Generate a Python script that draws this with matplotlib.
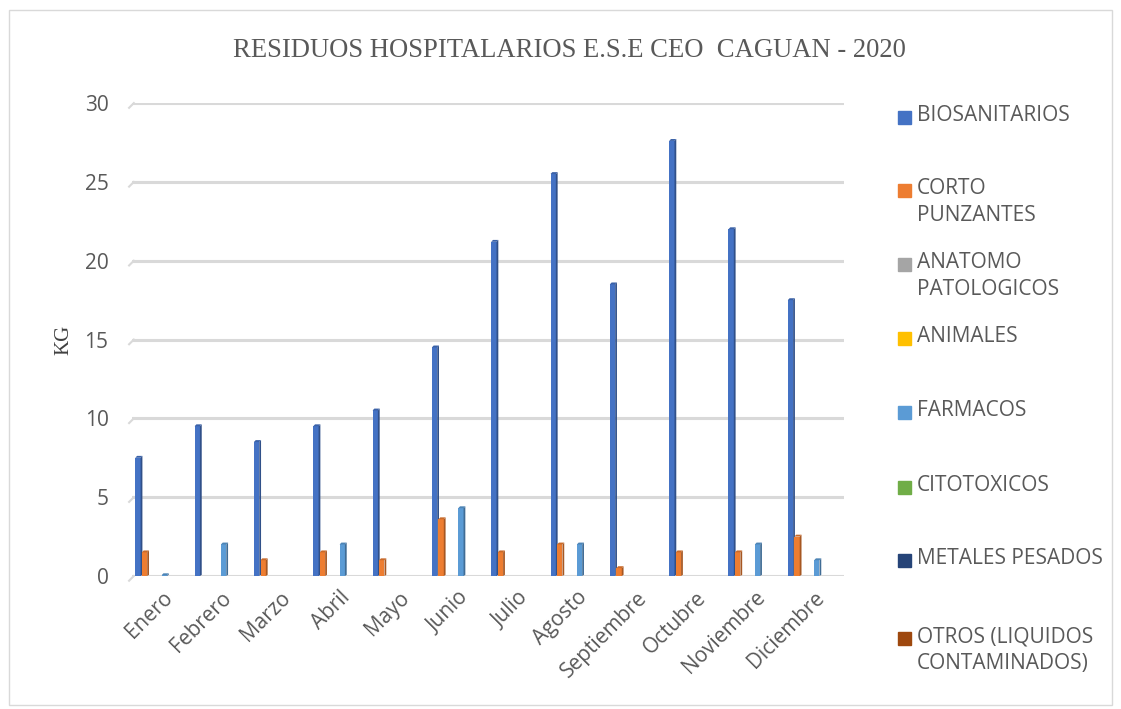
import matplotlib
matplotlib.use("Agg")
import matplotlib.pyplot as plt
import numpy as np
from matplotlib.colors import to_rgb
from matplotlib.patches import Rectangle, Polygon

months = ["Enero", "Febrero", "Marzo", "Abril", "Mayo", "Junio", "Julio",
          "Agosto", "Septiembre", "Octubre", "Noviembre", "Diciembre"]

series_names = ["BIOSANITARIOS", "CORTO\nPUNZANTES", "ANATOMO\nPATOLOGICOS",
                "ANIMALES", "FARMACOS", "CITOTOXICOS", "METALES PESADOS",
                "OTROS (LIQUIDOS\nCONTAMINADOS)"]
series_colors = ["#4472C4", "#ED7D31", "#A5A5A5", "#FFC000", "#5B9BD5",
                 "#70AD47", "#264478", "#9E480E"]

biosanitarios = [7.5, 9.5, 8.5, 9.5, 10.5, 14.5, 21.2, 25.5, 18.5, 27.6, 22.0, 17.5]
corto_punzantes = [1.5, 0, 1.0, 1.5, 1.0, 3.6, 1.5, 2.0, 0.5, 1.5, 1.5, 2.5]
anatomo = [0] * 12
animales = [0] * 12
farmacos = [0.05, 2.0, 0, 2.0, 0, 4.3, 0, 2.0, 0, 0, 2.0, 1.0]
citotoxicos = [0] * 12
metales = [0] * 12
otros = [0] * 12

series = [biosanitarios, corto_punzantes, anatomo, animales,
          farmacos, citotoxicos, metales, otros]

SANS = "Open Sans"
TXT = "#595959"
GRID = "#D9D9D9"


def shade(color, f):
    r, g, b = to_rgb(color)
    return (r * f, g * f, b * f)


fig = plt.figure(figsize=(11.21, 7.09), dpi=100)
ax = fig.add_axes([0.1178, 0.1876, 0.635, 0.667])

x = np.arange(len(months))
slot = 0.111
front_w = 0.09
side_w = 0.03
depth_y = 0.12

for i, (vals, col) in enumerate(zip(series, series_colors)):
    pos = x + (i - 3.5) * slot - 0.012
    vals = np.asarray(vals, dtype=float)
    ax.bar(pos, vals, width=front_w, color=col, zorder=3)
    # darker side face and top face for a 3D column look
    for p, v in zip(pos, vals):
        if v <= 0:
            continue
        xr = p + front_w / 2
        ax.add_patch(Polygon([(xr, 0), (xr + side_w, depth_y * 0.6),
                              (xr + side_w, v + depth_y), (xr, v)],
                             closed=True, color=shade(col, 0.7), zorder=3,
                             lw=0))
        xl = p - front_w / 2
        ax.add_patch(Polygon([(xl, v), (xr, v), (xr + side_w, v + depth_y),
                              (xl + side_w, v + depth_y)],
                             closed=True, color=shade(col, 0.85), zorder=3,
                             lw=0))

ax.set_xlim(-0.5, 11.5)
ax.set_ylim(0, 30)
ax.set_yticks(range(0, 31, 5))
ax.yaxis.grid(True, color=GRID, lw=2.2, zorder=0)
ax.set_axisbelow(True)
for s in ax.spines.values():
    s.set_visible(False)
ax.tick_params(length=0)
ax.tick_params(axis="y", pad=17, labelsize=15, labelcolor=TXT)
ax.set_xticks(x)
ax.set_xticklabels(months, rotation=45, ha="right", rotation_mode="anchor",
                   fontsize=15, color=TXT, family=SANS)
for lbl in ax.get_yticklabels():
    lbl.set_family(SANS)
ax.tick_params(axis="x", pad=8)

# slanted floor edge at the start of each gridline
for yv in range(0, 31, 5):
    ax.plot([-0.55, -0.47], [yv - 0.3, yv], color=GRID, lw=1.5,
            clip_on=False, zorder=0)

ax.set_ylabel("KG", fontsize=15, family="Liberation Serif", color="#404040",
              labelpad=8)

fig.text(0.508, 1 - 57 / 709, "RESIDUOS HOSPITALARIOS E.S.E CEO  CAGUAN - 2020",
         ha="center", va="baseline", fontsize=19.2, family="Liberation Serif",
         color=TXT)

# legend on the right
W, H = 1121, 709
leg_y = [117, 190, 264, 338, 412, 487, 560, 638]
for name, col, yp in zip(series_names, series_colors, leg_y):
    fig.patches.append(Rectangle((898 / W, 1 - (yp + 6.5) / H), 13 / W, 13 / H,
                                 transform=fig.transFigure, color=col))
    fig.text(917 / W, 1 - (yp - 12) / H, name, ha="left", va="top",
             fontsize=15, family=SANS, color=TXT, linespacing=1.35)

# outer chart frame
fig.patches.append(Rectangle((9 / W, 4 / H), 1 - 18 / W, 1 - 14 / H,
                             transform=fig.transFigure, fill=False,
                             ec=GRID, lw=1))

fig.savefig("out.png", dpi=100)
